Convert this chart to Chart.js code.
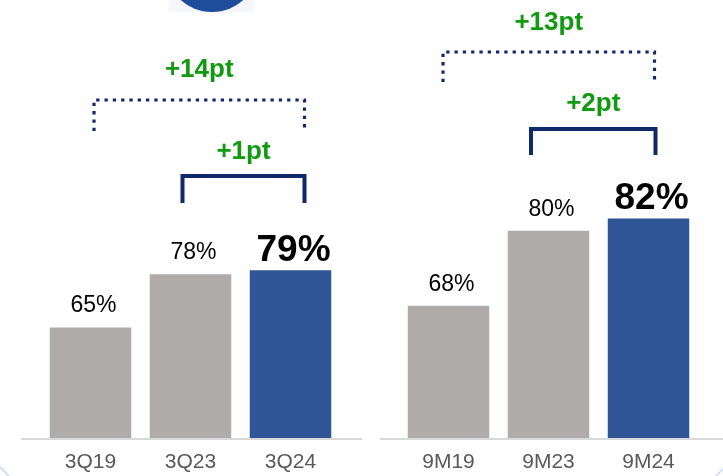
<!DOCTYPE html>
<html><head><meta charset="utf-8">
<script src="https://cdn.jsdelivr.net/npm/chart.js@4"></script>
<style>
html,body{margin:0;padding:0;background:#fff;}
body{width:723px;height:476px;position:relative;overflow:hidden;}
#wrapL{position:absolute;left:0;top:0;width:362px;height:476px;}
#wrapR{position:absolute;left:362px;top:0;width:361px;height:476px;}
.logoBg{position:absolute;left:169px;top:0;width:85px;height:12px;background:#f5f7fc;overflow:hidden;}
.logo{position:absolute;left:-4px;top:-82px;width:94px;height:94px;border-radius:50%;background:#1f4c9b;}
svg.deco{position:absolute;left:0;top:0;pointer-events:none;}
</style>
</head>
<body>
<div class="logoBg"><div class="logo"></div></div>
<div id="wrapL"><canvas id="cL" width="362" height="476"></canvas></div>
<div id="wrapR"><canvas id="cR" width="361" height="476"></canvas></div>
<svg class="deco" width="723" height="476">
  <line x1="0" y1="467" x2="9" y2="476" stroke="#c2d6f2" stroke-width="1.5"/>
  <line x1="716" y1="476" x2="723" y2="469" stroke="#c2d6f2" stroke-width="1.5"/>
</svg>
<script>
// ---- data ----
const quarterCategories = ['3Q19', '3Q23', '3Q24'];
const quarterValues = [65, 78, 79];
const quarterDeltaLabels = ['+14pt', '+1pt'];

const ytdCategories = ['9M19', '9M23', '9M24'];
const ytdValues = [68, 80, 82];
const ytdDeltaLabels = ['+13pt', '+2pt'];

// ---- styles ----
const FONT = '"Liberation Sans", Arial, Helvetica, sans-serif';
const GRAY = '#afabab';
const BLUE = '#2f5597';
const NAVY = '#10296a';
const GREEN = '#0f9a10';

const annotPlugin = {
  id: 'annot',
  afterDatasetsDraw(chart, args, opts) {
    const ctx = chart.ctx;
    const area = chart.chartArea;
    const meta = chart.getDatasetMeta(0);
    const vals = chart.data.datasets[0].data;
    ctx.save();
    // baseline
    ctx.strokeStyle = '#d9d9d9';
    ctx.lineWidth = 2;
    ctx.beginPath();
    ctx.moveTo(opts.baseFrom, area.bottom + 1);
    ctx.lineTo(opts.baseTo, area.bottom + 1);
    ctx.stroke();
    // value labels
    ctx.textAlign = 'center';
    ctx.textBaseline = 'alphabetic';
    meta.data.forEach((bar, i) => {
      const bold = i === opts.highlight;
      ctx.font = (bold ? 'bold 37px ' : '23px ') + FONT;
      ctx.fillStyle = '#000';
      ctx.fillText(vals[i] + '%', bar.x + 3, bar.y - (bold ? 9 : 15));
    });
    // brackets
    opts.brackets.forEach(b => {
      const x1 = meta.data[b.from].x + b.dx1;
      const x2 = meta.data[b.to].x + b.dx2;
      ctx.strokeStyle = NAVY;
      if (b.dotted) {
        ctx.lineWidth = 3.2;
        ctx.setLineDash([3.3, 5]);
      } else {
        ctx.lineWidth = 4;
        ctx.setLineDash([]);
      }
      ctx.lineJoin = 'miter';
      ctx.lineCap = 'butt';
      ctx.beginPath();
      ctx.moveTo(x1, b.bottom);
      ctx.lineTo(x1, b.top);
      ctx.lineTo(x2, b.top);
      ctx.lineTo(x2, b.bottom);
      ctx.stroke();
      ctx.setLineDash([]);
      ctx.font = 'bold 26px ' + FONT;
      ctx.fillStyle = GREEN;
      ctx.fillText(b.text, (x1 + x2) / 2, b.top - b.gap);
    });
    ctx.restore();
  }
};

function makeChart(id, cats, vals, yMin, yMax, padL, padR, annot) {
  return new Chart(document.getElementById(id), {
    type: 'bar',
    data: {
      labels: cats,
      datasets: [{
        data: vals,
        backgroundColor: vals.map((v, i) => i === vals.length - 1 ? BLUE : GRAY),
        borderWidth: 0,
        barPercentage: 0.815,
        categoryPercentage: 1.0
      }]
    },
    options: {
      responsive: false,
      devicePixelRatio: 1,
      animation: false,
      events: [],
      layout: { padding: { left: padL, right: padR, top: 0, bottom: 0 } },
      plugins: { legend: { display: false }, tooltip: { enabled: false }, title: { display: false }, annot: annot },
      scales: {
        x: {
          offset: true,
          grid: { display: false, drawTicks: false },
          border: { display: false },
          ticks: { color: '#595959', font: { size: 21, family: FONT }, padding: 12, autoSkip: false, maxRotation: 0 },
          afterFit(scale) { scale.height = 38; }
        },
        y: { display: false, min: yMin, max: yMax }
      }
    },
    plugins: [annotPlugin]
  });
}

makeChart('cL', quarterCategories, quarterValues, 38, 145, 40.5, 21.5, {
  baseFrom: 21, baseTo: 362, highlight: 2,
  brackets: [
    { from: 0, to: 2, dx1: 3.5, dx2: 14, top: 100, bottom: 131, dotted: true, text: quarterDeltaLabels[0], gap: 23 },
    { from: 1, to: 2, dx1: -8, dx2: 14, top: 176, bottom: 203, dotted: false, text: quarterDeltaLabels[1], gap: 17 }
  ]
});

makeChart('cR', ytdCategories, ytdValues, 46.8, 117, 36.5, 24.5, {
  baseFrom: 18, baseTo: 361, highlight: 2,
  brackets: [
    { from: 0, to: 2, dx1: -5.5, dx2: 6, top: 52, bottom: 82, dotted: true, text: ytdDeltaLabels[0], gap: 22 },
    { from: 1, to: 2, dx1: -17.5, dx2: 7, top: 129, bottom: 155, dotted: false, text: ytdDeltaLabels[1], gap: 18 }
  ]
});
</script>
</body></html>
